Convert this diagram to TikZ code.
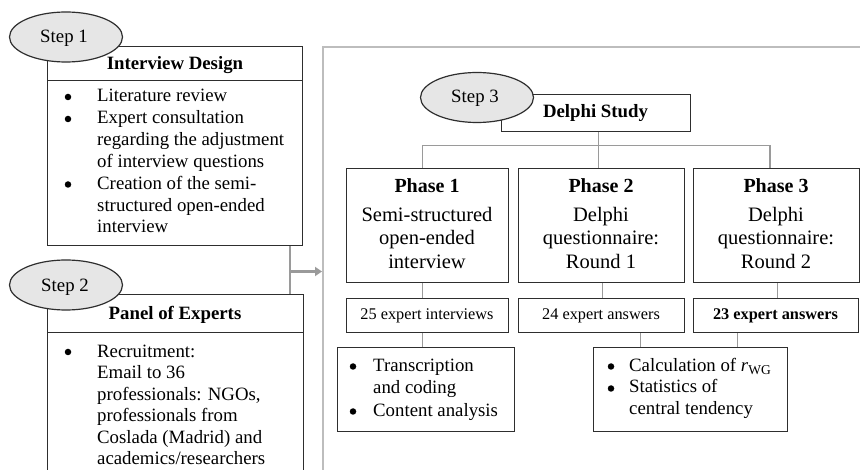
\documentclass[tikz,border=0pt]{standalone}
\usepackage{fontspec}
\setmainfont{Liberation Serif}
\usetikzlibrary{shapes.geometric,calc,arrows.meta}
\definecolor{boxline}{HTML}{2E2E2E}
\definecolor{ellfill}{HTML}{E6E6E6}
\definecolor{conngray}{HTML}{9A9A9A}
\definecolor{framegray}{HTML}{BDBDBD}
\tikzset{
  box/.style={draw=boxline, line width=1.3pt, inner sep=0pt, anchor=north west, fill=white},
  stepell/.style={ellipse, draw=boxline, line width=1.2pt, fill=ellfill, minimum width=113pt, minimum height=50pt, inner sep=0pt},
  conn/.style={draw=conngray, line width=1.4pt},
  bigarrow/.style={draw=conngray, line width=3pt, -{Triangle[width=9pt,length=7pt]}},
  txt/.style={inner sep=0pt, font=\fontsize{18.8}{21.7}\selectfont},
  lst/.style={txt, anchor=base west, align=left},
  bul/.style={circle, fill=black, inner sep=0pt, minimum size=6.5pt},
  phtitle/.style={inner sep=0pt, anchor=base, font=\fontsize{20}{23}\selectfont\bfseries},
  phbody/.style={inner sep=0pt, anchor=base, align=center, font=\fontsize{20.5}{23.3}\selectfont},
  cnt/.style={inner sep=0pt, anchor=base, font=\fontsize{16.3}{19}\selectfont},
}
\begin{document}
\begin{tikzpicture}[x=1pt, y=-1pt]
\clip (0,0) rectangle (860,470);
\fill[white] (0,0) rectangle (860,470);
% big frame
\draw[framegray, line width=1.5pt] (323,47) rectangle (890,500);

% Step 1 block
\node[box, minimum width=255pt, minimum height=34pt] (idhead) at (47,46) {};
\node[box, minimum width=255pt, minimum height=165pt] (idbody) at (47,80) {};
\node[txt, anchor=base, font=\fontsize{18.8}{21.7}\selectfont\bfseries] (idtitle) at (175,70) {Interview Design};
\node[bul] (ib1) at (68,97) {};
\node[lst] (it1) at (97,102) {Literature review};
\node[bul] (ib2) at (68,119) {};
\node[lst] (it2) at (97,167.4) {Expert consultation\\regarding the adjustment\\of interview questions};
\node[bul] (ib3) at (68,184.5) {};
\node[lst] (it3) at (97,232.9) {Creation of the semi-\\structured open-ended\\interview};

% Step 2 block
\node[box, minimum width=256pt, minimum height=38pt] (pehead) at (47,294) {};
\node[box, minimum width=256pt, minimum height=160pt] (pebody) at (47,332) {};
\node[txt, anchor=base, font=\fontsize{18.8}{21.7}\selectfont\bfseries] (petitle) at (175,320) {Panel of Experts};
\node[bul] (pb1) at (68,352) {};
\node[lst, font=\fontsize{18.8}{21.5}\selectfont] (pt1) at (97,464.5) {Recruitment:\\Email to 36\\professionals: NGOs,\\professionals from\\Coslada (Madrid) and\\academics/researchers};

% connector step1/2 -> step 3
\coordinate (jn) at (290,271.5);
\coordinate (arrtip) at (322,271.5);
\draw[conn] (jn |- idbody.south) -- (jn |- pehead.north);
\draw[bigarrow] (jn) -- (arrtip);

% Delphi study
\node[box, minimum width=189pt, minimum height=37pt] (delphi) at (501,94) {};
\node[txt, anchor=base, font=\fontsize{18.8}{21.7}\selectfont\bfseries] (deltitle) at (595.5,118) {Delphi Study};

% Phase boxes
\node[box, minimum width=162pt, minimum height=114pt] (p1) at (346,168) {};
\node[box, minimum width=166pt, minimum height=114pt] (p2) at (518,168) {};
\node[box, minimum width=166pt, minimum height=114pt] (p3) at (693,168) {};
\node[phtitle] (p1t) at (427,192.5) {Phase 1};
\node[phtitle] (p2t) at (601,192.5) {Phase 2};
\node[phtitle] (p3t) at (776,192.5) {Phase 3};
\node[phbody] (p1b) at (427,268.3) {Semi-structured\\open-ended\\interview};
\node[phbody] (p2b) at (601,268.3) {Delphi\\questionnaire:\\Round 1};
\node[phbody] (p3b) at (776,268.3) {Delphi\\questionnaire:\\Round 2};

% count boxes
\node[box, minimum width=162pt, minimum height=34pt] (c1) at (346,298) {};
\node[box, minimum width=166pt, minimum height=34pt] (c2) at (518,298) {};
\node[box, minimum width=165pt, minimum height=34pt] (c3) at (693,298) {};
\node[cnt] (c1t) at (427,319.5) {25 expert interviews};
\node[cnt] (c2t) at (601,319.5) {24 expert answers};
\node[cnt, font=\fontsize{16.3}{19}\selectfont\bfseries] (c3t) at (775.5,319.5) {23 expert answers};

% bullet boxes
\node[box, minimum width=177pt, minimum height=84pt] (b1) at (337,347) {};
\node[box, minimum width=194pt, minimum height=84pt] (b2) at (593,347) {};
\node[bul] (bb1) at (353,366.5) {};
\node[lst] (bt1) at (373,393.4) {Transcription\\and coding};
\node[bul] (bb2) at (353,411.5) {};
\node[lst] (bt2) at (373,416.7) {Content analysis};
\node[bul] (bb3) at (611,366.5) {};
\node[lst] (bt3) at (629,371.7) {Calculation of \textit{r}\raisebox{-0.35ex}{\fontsize{13.5}{14}\selectfont WG}};
\node[bul] (bb4) at (611,388.5) {};
\node[lst] (bt4) at (629,414.7) {Statistics of\\central tendency};

% connectors
\coordinate (tj) at ($(delphi.south)+(2.5,13)$);
\draw[conn] ($(delphi.south)+(2.5,0)$) -- (tj);
\draw[conn] ($(p1.north)+(-5,0)$) |- (tj) -| ($(p3.north)+(-6.5,0)$);
\draw[conn] (tj) -- (tj |- p2.north);
\draw[conn] ($(p1.south)+(-5,0)$) -- ($(c1.north)+(-5,0)$);
\draw[conn] ($(p2.south)+(1,0)$) -- ($(c2.north)+(1,0)$);
\draw[conn] ($(p3.south)+(1,0)$) -- ($(c3.north)+(1.5,0)$);
\draw[conn] ($(c1.south)+(-5,0)$) coordinate (k1) -- (k1 |- b1.north);
\draw[conn] ($(c2.south)+(39,0)$) coordinate (k2) -- (k2 |- b2.north);
\draw[conn] ($(c3.south)+(-38.5,0)$) coordinate (k3) -- (k3 |- b2.north);

% step ellipses
\node[stepell] (s1) at (66,37) {};
\node[stepell] (s2) at (66,285) {};
\node[stepell] (s3) at (477,97.5) {};
\node[txt, anchor=base] (s1t) at (64,43) {Step 1};
\node[txt, anchor=base] (s2t) at (65,292) {Step 2};
\node[txt, anchor=base] (s3t) at (475,103) {Step 3};
\end{tikzpicture}
\end{document}
